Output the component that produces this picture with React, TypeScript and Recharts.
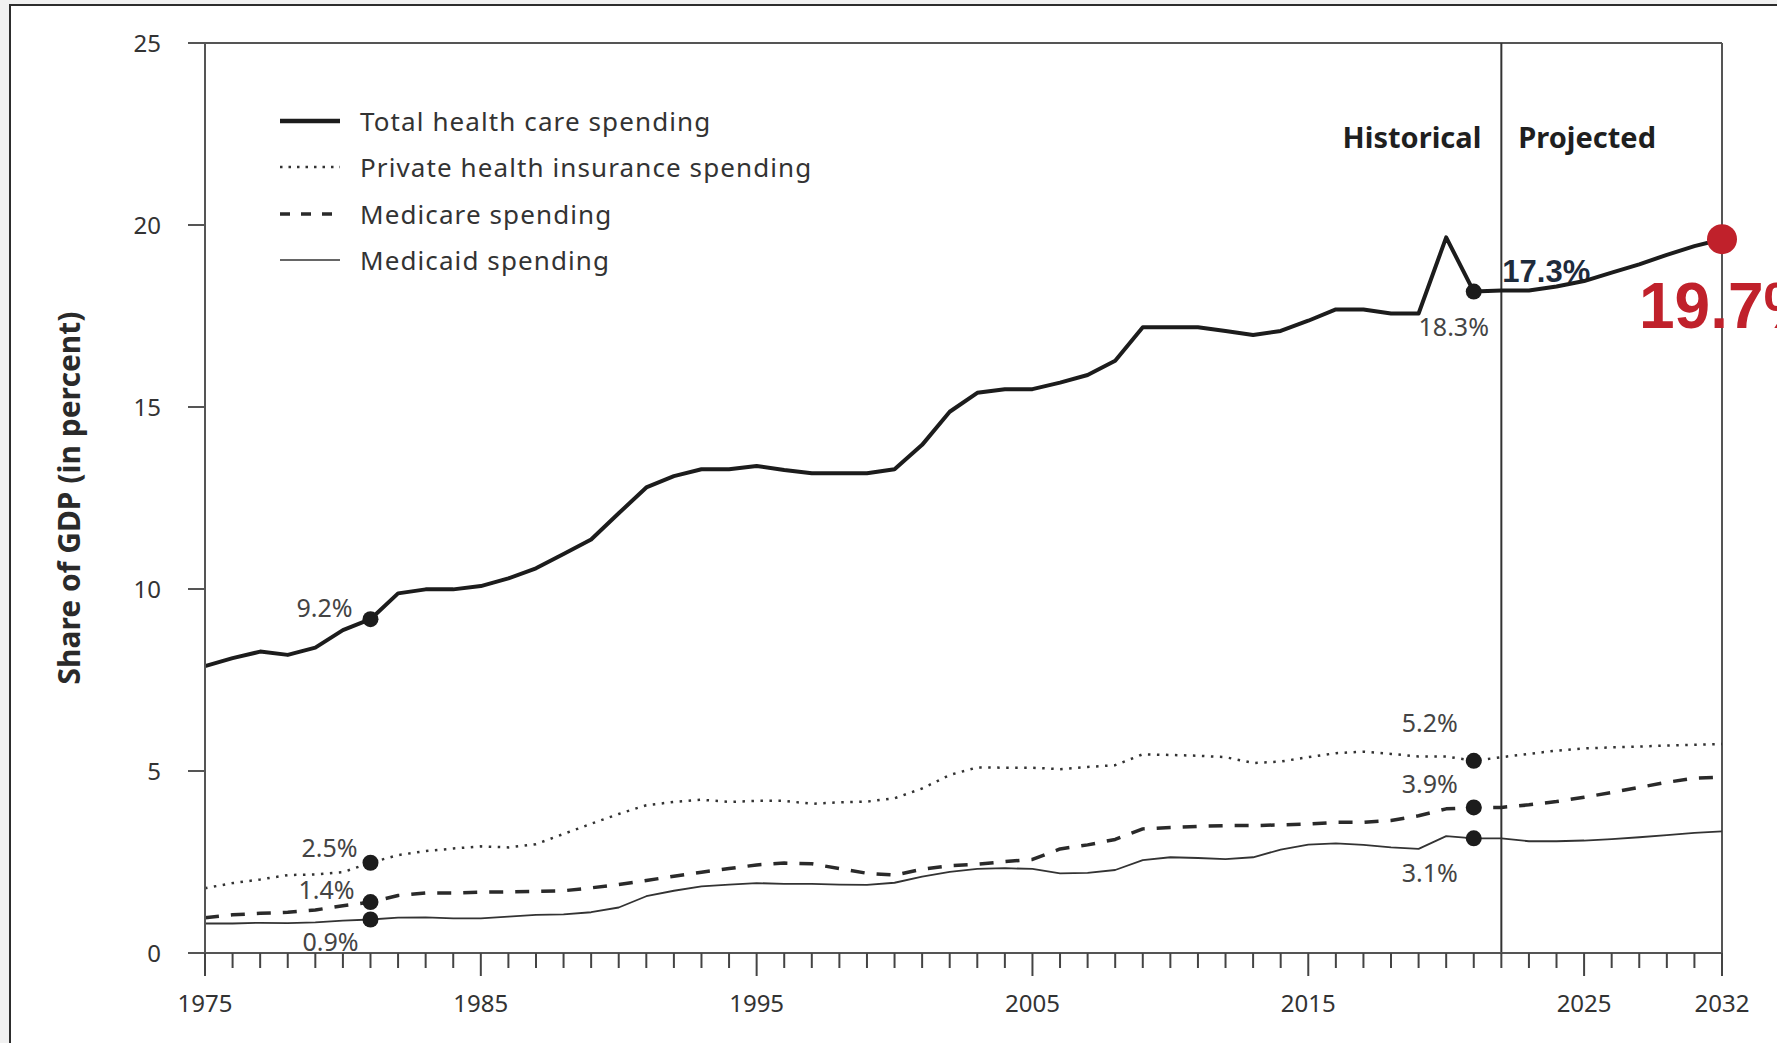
import React from 'react';
import { LineChart, Line, XAxis, YAxis, ReferenceLine, ReferenceDot, Legend } from 'recharts';

// ---------- data ----------
const years = [
  1975, 1976, 1977, 1978, 1979, 1980, 1981, 1982, 1983, 1984,
  1985, 1986, 1987, 1988, 1989, 1990, 1991, 1992, 1993, 1994,
  1995, 1996, 1997, 1998, 1999, 2000, 2001, 2002, 2003, 2004,
  2005, 2006, 2007, 2008, 2009, 2010, 2011, 2012, 2013, 2014,
  2015, 2016, 2017, 2018, 2019, 2020, 2021, 2022, 2023, 2024,
  2025, 2026, 2027, 2028, 2029, 2030,
];

const totalSpending = [
  7.88, 8.1, 8.28, 8.19, 8.39, 8.87, 9.17, 9.88, 9.99, 9.99,
  10.08, 10.29, 10.57, 10.96, 11.36, 12.08, 12.79, 13.1, 13.29, 13.29,
  13.38, 13.27, 13.18, 13.18, 13.18, 13.29, 13.96, 14.87, 15.39, 15.49,
  15.49, 15.67, 15.88, 16.27, 17.19, 17.19, 17.19, 17.09, 16.98, 17.09,
  17.37, 17.68, 17.68, 17.57, 17.57, 19.66, 18.17, 18.2, 18.2, 18.31,
  18.46, 18.69, 18.92, 19.18, 19.42, 19.61,
];

const privateInsurance = [
  1.78, 1.92, 2.02, 2.14, 2.16, 2.22, 2.48, 2.69, 2.8, 2.87,
  2.93, 2.9, 2.99, 3.27, 3.55, 3.82, 4.06, 4.15, 4.21, 4.15,
  4.18, 4.18, 4.1, 4.14, 4.16, 4.25, 4.52, 4.89, 5.1, 5.09,
  5.09, 5.05, 5.11, 5.16, 5.46, 5.44, 5.42, 5.38, 5.22, 5.26,
  5.38, 5.49, 5.53, 5.47, 5.4, 5.4, 5.28, 5.38, 5.47, 5.56,
  5.62, 5.65, 5.67, 5.7, 5.72, 5.74,
];

const medicare = [
  0.97, 1.05, 1.09, 1.12, 1.18, 1.3, 1.4, 1.58, 1.65, 1.65,
  1.67, 1.68, 1.69, 1.71, 1.79, 1.88, 1.99, 2.11, 2.22, 2.32,
  2.42, 2.47, 2.45, 2.32, 2.19, 2.14, 2.3, 2.4, 2.44, 2.51,
  2.57, 2.86, 2.97, 3.12, 3.41, 3.45, 3.48, 3.5, 3.5, 3.52,
  3.54, 3.59, 3.59, 3.64, 3.77, 3.96, 4.0, 4.0, 4.07, 4.16,
  4.28, 4.41, 4.55, 4.69, 4.8, 4.83,
];

const medicaid = [
  0.81, 0.81, 0.83, 0.82, 0.84, 0.89, 0.92, 0.97, 0.98, 0.95,
  0.95, 1.0, 1.05, 1.06, 1.12, 1.25, 1.56, 1.71, 1.83, 1.88,
  1.92, 1.9, 1.9, 1.88, 1.87, 1.93, 2.1, 2.23, 2.31, 2.33,
  2.31, 2.19, 2.2, 2.28, 2.55, 2.63, 2.61, 2.58, 2.63, 2.84,
  2.98, 3.01, 2.97, 2.9, 2.86, 3.21, 3.15, 3.15, 3.07, 3.07,
  3.09, 3.13, 3.18, 3.24, 3.3, 3.34,
];

const seriesKeys = ['total', 'private', 'medicare', 'medicaid'];
const seriesNames = [
  'Total health care spending',
  'Private health insurance spending',
  'Medicare spending',
  'Medicaid spending',
];

const xMajorTicks = [1975, 1985, 1995, 2005, 2015, 2025, 2030];
const xMajorLabels = ['1975', '1985', '1995', '2005', '2015', '2025', '2032'];
const yTicks = [0, 5, 10, 15, 20, 25];
const yAxisTitle = 'Share of GDP (in percent)';

const splitYear = 2022;
const periodLabels = ['Historical', 'Projected'];
const projectedNote = '17.3%';
const finalLabel = '19.7%';

const calloutStartYear = 1981;
const calloutEndYear = 2021;
const startLabels = ['9.2%', '2.5%', '1.4%', '0.9%'];
const endLabels = ['18.3%', '5.2%', '3.9%', '3.1%'];

// ---------- build ----------
const seriesValues = [totalSpending, privateInsurance, medicare, medicaid];
const data = years.map((year, i) => ({
  year,
  total: totalSpending[i],
  private: privateInsurance[i],
  medicare: medicare[i],
  medicaid: medicaid[i],
}));

const FONT = '"Noto Sans", "DejaVu Sans", sans-serif';
const ARIAL = '"Liberation Sans", Arial, sans-serif';

const lineStyles = [
  { stroke: '#1c1c1c', strokeWidth: 4 },
  { stroke: '#333333', strokeWidth: 2.5, strokeDasharray: '2.5 6.5' },
  { stroke: '#2a2a2a', strokeWidth: 3.5, strokeDasharray: '14 12' },
  { stroke: '#333333', strokeWidth: 1.8 },
];
const legendStyles = [
  { stroke: '#1c1c1c', strokeWidth: 4.5 },
  { stroke: '#333333', strokeWidth: 2.5, strokeDasharray: '2.5 6' },
  { stroke: '#2a2a2a', strokeWidth: 3.5, strokeDasharray: '10 11' },
  { stroke: '#333333', strokeWidth: 1.6 },
];

// label offsets relative to dot centres: [dx, dy, anchor]
const startOffsets: [number, number, string][] = [
  [-18, -2, 'end'],
  [-13, -6, 'end'],
  [-16, -3, 'end'],
  [-12, 31, 'end'],
];
const endOffsets: [number, number, string][] = [
  [-20, 44, 'middle'],
  [-44, -29, 'middle'],
  [-44, -14, 'middle'],
  [-44, 44, 'middle'],
];

const XTick = (props: any) => {
  const { x, y, payload } = props;
  const v = payload.value;
  const mi = xMajorTicks.indexOf(v);
  const major = mi >= 0;
  return (
    <g>
      <line x1={x} x2={x} y1={y} y2={y + (major ? 23 : 15)} stroke="#444" strokeWidth={2} />
      {major && (
        <text x={x} y={y + 59} textAnchor="middle" fontSize={24} fill="#333" fontFamily={FONT}>
          {xMajorLabels[mi]}
        </text>
      )}
    </g>
  );
};

const dotLabel = (text: string, dx: number, dy: number, anchor: string) => (props: any) => {
  const vb = props.viewBox;
  const cx = vb.x + vb.width / 2;
  const cy = vb.y + vb.height / 2;
  return (
    <text x={cx + dx} y={cy + dy} textAnchor={anchor as any} fontSize={25} fill="#444" fontFamily={FONT}>
      {text}
    </text>
  );
};

const splitLabel = (props: any) => {
  const { x, y } = props.viewBox;
  return (
    <g>
      <text x={x - 20} y={y + 105} textAnchor="end" fontSize={29} fontWeight={700} fill="#1f1f1f" fontFamily={FONT}>
        {periodLabels[0]}
      </text>
      <text x={x + 17} y={y + 105} textAnchor="start" fontSize={29} fontWeight={700} fill="#1f1f1f" fontFamily={FONT}>
        {periodLabels[1]}
      </text>
      <text x={x + 1} y={y + 239} textAnchor="start" fontSize={31} fontWeight={700} fill="#1e2b3c" fontFamily={ARIAL}>
        {projectedNote}
      </text>
    </g>
  );
};

const finalDotLabel = (props: any) => {
  const vb = props.viewBox;
  const cx = vb.x + vb.width / 2;
  const cy = vb.y + vb.height / 2;
  return (
    <text x={cx - 83} y={cy + 89} fontSize={64} fontWeight={700} fill="#c0212b" fontFamily={ARIAL}>
      {finalLabel}
    </text>
  );
};

const yTitle = (props: any) => {
  const vb = props.viewBox;
  const cx = vb.x - 57;
  const cy = vb.y + vb.height / 2;
  return (
    <text
      x={cx}
      y={cy}
      transform={`rotate(-90, ${cx}, ${cy})`}
      textAnchor="middle"
      dominantBaseline="central"
      fontSize={30}
      fontWeight={700}
      fill="#2a2a2a"
      fontFamily={FONT}
    >
      {yAxisTitle}
    </text>
  );
};

const renderLegend = () => (
  <div style={{ fontFamily: FONT, fontSize: 26, color: '#333', letterSpacing: 1.1 }}>
    {seriesNames.map((name, i) => (
      <div key={name} style={{ display: 'flex', alignItems: 'center', height: 46.3 }}>
        <svg width={62} height={12} style={{ marginRight: 18, flex: 'none' }}>
          <line x1={0} x2={60} y1={6} y2={6} {...legendStyles[i]} />
        </svg>
        <span style={{ lineHeight: 1, whiteSpace: 'nowrap' }}>{name}</span>
      </div>
    ))}
  </div>
);

export default function App() {
  const iStart = years.indexOf(calloutStartYear);
  const iEnd = years.indexOf(calloutEndYear);
  const iLast = years.length - 1;
  return (
    <div style={{ position: 'absolute', left: 0, top: 0, width: 1777, height: 1043, background: '#f1f1f1', overflow: 'hidden' }}>
      <div
        style={{
          position: 'absolute',
          left: 9,
          top: 4,
          width: 1800,
          height: 1100,
          background: '#ffffff',
          borderTop: '2px solid #2d2d2d',
          borderLeft: '2px solid #2d2d2d',
        }}
      />
      <div style={{ position: 'absolute', left: 0, top: 0 }}>
        <LineChart
          width={1777}
          height={1043}
          data={data}
          margin={{ top: 43, right: 55, bottom: 30, left: 125 }}
          style={{ fontFamily: FONT }}
        >
          <XAxis
            dataKey="year"
            type="number"
            domain={[1975, 2030]}
            ticks={years}
            interval={0}
            height={60}
            tickSize={0}
            tickMargin={0}
            tickLine={false}
            tick={<XTick />}
            axisLine={{ stroke: '#555', strokeWidth: 2 }}
          />
          <YAxis
            type="number"
            domain={[0, 25]}
            ticks={yTicks}
            interval={0}
            width={80}
            tickSize={17}
            tickMargin={27}
            tick={{ fill: '#333', fontSize: 24, fontFamily: FONT }}
            tickLine={{ stroke: '#555', strokeWidth: 2 }}
            axisLine={{ stroke: '#555', strokeWidth: 2 }}
            label={yTitle}
          />
          <ReferenceLine y={25} stroke="#555" strokeWidth={2} />
          <ReferenceLine x={2030} stroke="#555" strokeWidth={2} />
          <ReferenceLine x={splitYear} stroke="#333" strokeWidth={2} label={splitLabel} />
          <Legend
            layout="vertical"
            align="center"
            verticalAlign="middle"
            content={renderLegend}
            wrapperStyle={{ left: 280, top: 98, width: 'auto' }}
          />
          {seriesKeys.map((k, i) => (
            <Line
              key={k}
              dataKey={k}
              name={seriesNames[i]}
              type="linear"
              {...lineStyles[i]}
              strokeLinejoin="round"
              dot={false}
              activeDot={false}
              isAnimationActive={false}
            />
          ))}
          {seriesKeys.map((k, i) => (
            <ReferenceDot
              key={`s-${k}`}
              x={calloutStartYear}
              y={seriesValues[i][iStart]}
              r={8}
              fill="#1c1c1c"
              stroke="none"
              label={dotLabel(startLabels[i], startOffsets[i][0], startOffsets[i][1], startOffsets[i][2])}
            />
          ))}
          {seriesKeys.map((k, i) => (
            <ReferenceDot
              key={`e-${k}`}
              x={calloutEndYear}
              y={seriesValues[i][iEnd]}
              r={8}
              fill="#1c1c1c"
              stroke="none"
              label={dotLabel(endLabels[i], endOffsets[i][0], endOffsets[i][1], endOffsets[i][2])}
            />
          ))}
          <ReferenceDot
            x={years[iLast]}
            y={totalSpending[iLast]}
            r={15}
            fill="#c0212b"
            stroke="none"
            label={finalDotLabel}
          />
        </LineChart>
      </div>
    </div>
  );
}
